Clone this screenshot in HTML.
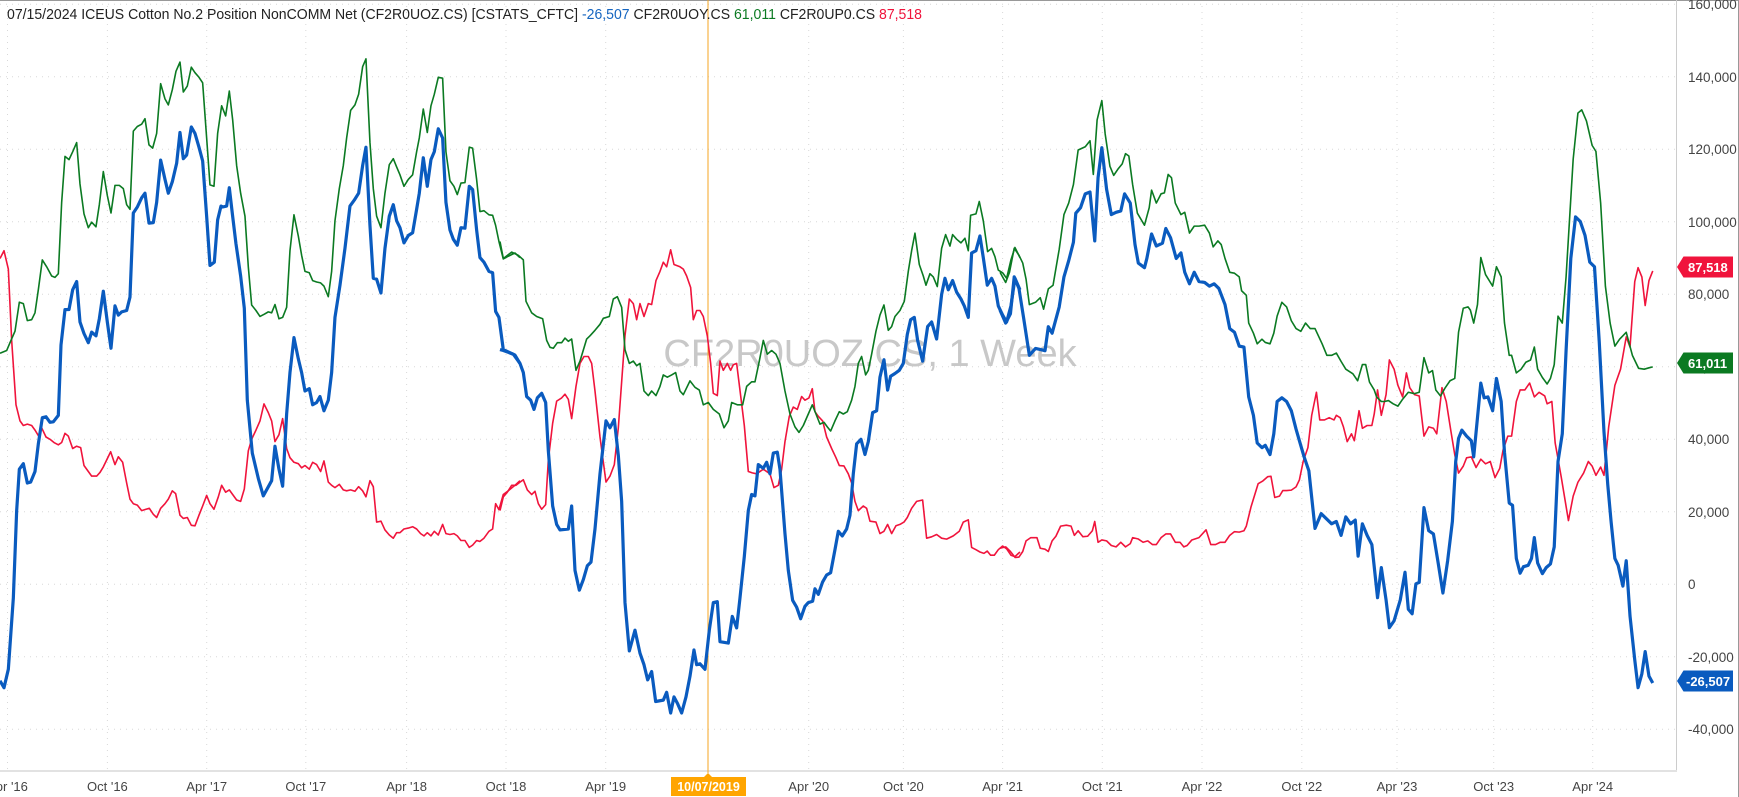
<!DOCTYPE html>
<html><head><meta charset="utf-8"><style>
html,body{margin:0;padding:0;background:#fff;}
svg{display:block;font-family:"Liberation Sans",sans-serif;}
</style></head><body>
<svg width="1739" height="797" viewBox="0 0 1739 797" xmlns="http://www.w3.org/2000/svg">
<rect width="1739" height="797" fill="#fff"/>
<g stroke="#d8d8d8" stroke-dasharray="1,5" stroke-width="1">
<line x1="0" x2="1676" y1="4.3" y2="4.3"/><line x1="0" x2="1676" y1="76.8" y2="76.8"/>
<line x1="0" x2="1676" y1="149.3" y2="149.3"/><line x1="0" x2="1676" y1="221.8" y2="221.8"/>
<line x1="0" x2="1676" y1="294.3" y2="294.3"/><line x1="0" x2="1676" y1="366.8" y2="366.8"/>
<line x1="0" x2="1676" y1="439.3" y2="439.3"/><line x1="0" x2="1676" y1="511.8" y2="511.8"/>
<line x1="0" x2="1676" y1="584.3" y2="584.3"/><line x1="0" x2="1676" y1="656.8" y2="656.8"/>
<line x1="0" x2="1676" y1="729.3" y2="729.3"/>
</g>
<g stroke="#d8d8d8" stroke-dasharray="1,5" stroke-width="1">
<line x1="7.5" x2="7.5" y1="0" y2="771"/><line x1="107.4" x2="107.4" y1="0" y2="771"/>
<line x1="206.7" x2="206.7" y1="0" y2="771"/><line x1="305.8" x2="305.8" y1="0" y2="771"/>
<line x1="406.6" x2="406.6" y1="0" y2="771"/><line x1="506" x2="506" y1="0" y2="771"/>
<line x1="605.7" x2="605.7" y1="0" y2="771"/><line x1="808.7" x2="808.7" y1="0" y2="771"/>
<line x1="903.4" x2="903.4" y1="0" y2="771"/><line x1="1002.6" x2="1002.6" y1="0" y2="771"/>
<line x1="1102.3" x2="1102.3" y1="0" y2="771"/><line x1="1202" x2="1202" y1="0" y2="771"/>
<line x1="1301.8" x2="1301.8" y1="0" y2="771"/><line x1="1397" x2="1397" y1="0" y2="771"/>
<line x1="1493.7" x2="1493.7" y1="0" y2="771"/><line x1="1592.7" x2="1592.7" y1="0" y2="771"/>
</g>
<line x1="0" x2="1739" y1="0.5" y2="0.5" stroke="#999"/>
<line x1="1676.5" x2="1676.5" y1="0" y2="772" stroke="#ccc"/>
<line x1="0" x2="1677" y1="771" y2="771" stroke="#e2e2e2" stroke-width="2"/>
<line x1="1738.5" x2="1738.5" y1="0" y2="797" stroke="#999"/>
<text x="870" y="366" font-size="38" fill="#c8c8c8" text-anchor="middle">CF2R0UOZ.CS, 1 Week</text>
<line x1="708" x2="708" y1="0" y2="773" stroke="#f5a623" stroke-width="1"/>
<g fill="none" stroke-linejoin="round">
<g stroke="#f0143c" stroke-width="1.6">
<polyline vector-effect="non-scaling-stroke" transform="scale(0.3333,0.46)" points="0,562 12,545 25,585 35,740 48,880 60,915 70,925 82,922 95,925 105,935 115,947 125,930 138,950 150,955 162,962 175,967 185,962 195,942 205,948 218,975 230,970 242,973 252,1012 265,1025 275,1035 290,1035 300,1027 310,1015 322,997 332,982 345,1010 355,993 368,1005 380,1050 390,1085 400,1095 412,1098 425,1110 438,1107 448,1105 460,1118 470,1125 482,1105 495,1095 505,1085 517,1067 527,1073 540,1120 550,1127 562,1125 574,1142 585,1143 597,1120 608,1100 620,1077 630,1095 642,1107 655,1080 665,1055 677,1070 688,1065 698,1075 710,1087 722,1090 733,1063 745,980 755,955 768,935 780,915 792,878 805,897 815,915 825,960 837,945 848,910 860,975 870,995 882,1005 895,1008 905,1017 915,1012 928,1020 938,1005 950,1010 962,1025 972,1002 985,1048 995,1055 1005,1060 1018,1053 1030,1065 1040,1067 1052,1065 1065,1068 1076,1058 1088,1067 1098,1080 1110,1045 1120,1058 1130,1135 1143,1133 1155,1152 1168,1163 1180,1170 1190,1158 1200,1158 1212,1150 1225,1148 1238,1145 1250,1150 1262,1160 1272,1165 1282,1158 1293,1165 1303,1155 1315,1163 1328,1140 1338,1160 1350,1162 1362,1160 1372,1165 1383,1175 1395,1175 1408,1190 1418,1185 1430,1175 1440,1177 1452,1170 1467,1155 1478,1150 1487,1095 1497,1108 1510,1075 1525,1067 1545,1055 1560,1045"/>
<polyline vector-effect="non-scaling-stroke" transform="translate(500,0) scale(0.3333,0.46)" points="0,1110 10,1080 22,1070 35,1055 48,1055 60,1048 70,1043 82,1065 95,1075 105,1068 115,1095 125,1107 137,1097 145,1000 158,920 170,872 185,865 195,857 205,868 215,910 228,840 240,790 252,775 265,775 275,790 285,850 300,950 318,1048 330,1035 343,1010 355,930 365,830 375,730 388,650 400,660 410,695 420,660 432,688 445,660 455,662 468,610 480,590 490,570 500,580 512,543 522,575 540,580 550,585 560,600 572,625 580,695 590,675 600,675 610,688 622,730 632,790 640,855 652,860 660,785 670,805 682,790 692,805 700,793 710,790 722,860 733,925 745,1025 757,1028 770,1030 790,1020 810,1030 822,1060 835,1055 845,1020 855,960 868,905 880,885 892,890 905,862 915,870 927,865 937,845 945,895 955,905 968,915 980,950 995,975 1008,995 1018,1012 1032,1013 1045,1030 1055,1050 1065,1090 1075,1110 1090,1100 1100,1105 1110,1133 1128,1135 1140,1160 1152,1155 1163,1140 1175,1160 1188,1143 1200,1140 1212,1135 1222,1125 1235,1105 1250,1090 1268,1087 1280,1170 1295,1167 1310,1162 1325,1170 1340,1172 1360,1165 1378,1155 1390,1135 1405,1130 1415,1190 1428,1195 1440,1200 1452,1203 1462,1198 1472,1207 1483,1207 1495,1195 1508,1187 1520,1193 1533,1207 1545,1210 1560,1200"/>
<polyline vector-effect="non-scaling-stroke" transform="translate(1000,0) scale(0.4737,0.4615)" points="0,1188 12,1185 22,1195 32,1208 40,1207 48,1195 55,1172 65,1165 78,1165 85,1188 95,1190 102,1195 110,1172 118,1162 128,1140 140,1138 150,1140 157,1160 165,1150 175,1163 185,1162 195,1150 200,1130 207,1175 215,1170 225,1172 235,1182 245,1185 255,1175 265,1185 275,1178 280,1165 292,1168 302,1175 312,1172 322,1180 330,1180 340,1165 350,1157 360,1157 370,1175 380,1175 388,1185 395,1182 405,1170 420,1165 435,1148 445,1180 455,1180 465,1175 475,1175 485,1160 495,1152 505,1153 515,1150 520,1140 530,1098 545,1048 555,1042 565,1033 572,1032 580,1078 590,1075 597,1063 605,1063 615,1062 625,1055 632,1040 640,1000 650,970 658,900 668,850 675,910 685,910 695,905 705,910 710,900 718,905 725,925 733,957 742,940 748,955 758,890 765,928 775,922 785,922 790,897 797,845 805,900 815,855 822,780 832,800 840,835 850,860 858,808 865,840 875,855 885,858 895,945 905,925 915,928 922,940 933,840 942,870 952,935 960,985 968,1025 978,1010 985,992 995,990 1005,1013 1015,995 1025,1005 1035,1000 1045,1035 1055,1015 1062,975 1072,945 1080,945 1090,870 1098,845 1108,845 1118,830 1128,860 1138,850 1150,858 1155,875 1165,870 1172,960 1185,1035 1200,1128 1210,1075 1220,1045 1232,1025 1242,1000 1250,1010 1258,1030 1268,1012 1275,1030 1285,925 1298,835 1310,800 1322,730 1330,752 1340,610 1347,580 1355,600 1362,662 1370,608 1378,587"/>
</g>
<g stroke="#0b7a22" stroke-width="1.6">
<polyline vector-effect="non-scaling-stroke" transform="scale(0.3333,0.46)" points="0,768 20,762 30,745 45,720 58,657 70,660 82,697 95,695 105,680 115,630 127,565 140,580 155,600 165,603 175,595 185,440 195,340 207,347 218,330 230,310 240,400 252,465 265,495 275,483 288,493 298,445 310,373 322,425 333,463 345,403 358,403 370,410 380,445 390,455 400,285 412,275 425,270 435,258 447,315 458,322 470,290 482,182 495,215 505,228 517,195 528,155 540,135 550,200 562,187 574,146 585,158 597,168 608,180 620,300 630,402 642,405 653,290 665,230 677,252 688,198 698,260 710,360 722,420 735,470 745,580 755,663 768,675 780,688 793,683 805,678 815,680 825,662 837,693 848,690 860,668 870,545 882,467 895,513 905,555 915,590 928,593 938,610 950,613 962,615 972,622 985,645 995,590 1005,480 1018,410 1030,360 1040,300 1052,240 1065,228 1076,205 1088,145 1098,128 1110,310 1120,410 1130,470 1143,495 1155,420 1168,358 1180,345 1190,363 1200,380 1212,405 1225,390 1238,380 1250,330 1258,300 1270,237 1282,288 1293,230 1303,205 1315,168 1328,170 1338,330 1350,393 1362,405 1372,423 1383,398 1395,397 1408,320 1418,322 1430,390 1440,460 1452,458 1467,467 1478,468 1487,490 1497,525 1510,563 1525,557 1545,550 1560,560"/>
<polyline vector-effect="non-scaling-stroke" transform="translate(500,0) scale(0.3333,0.46)" points="0,525 10,562 35,548 55,555 70,565 78,655 95,680 110,688 128,693 140,740 150,755 160,757 172,745 185,745 195,735 205,742 215,737 228,805 240,785 260,737 270,730 285,718 300,705 310,692 328,688 340,650 352,645 365,668 375,760 388,790 400,785 410,795 420,790 432,850 445,860 455,850 468,860 480,840 490,815 502,820 515,815 527,810 540,850 550,858 570,828 585,842 598,848 610,880 625,875 640,890 658,900 672,930 685,915 695,875 712,880 728,880 740,840 755,830 765,830 778,785 790,740 802,770 815,762 828,770 840,790 855,850 870,900 885,928 897,940 910,925 925,900 937,880 948,900 960,922 972,918 982,928 992,937 1005,915 1018,895 1030,900 1042,895 1055,870 1065,840 1075,790 1085,775 1097,815 1105,805 1115,770 1128,720 1140,685 1152,663 1165,718 1175,710 1185,688 1200,675 1213,655 1225,590 1235,545 1245,507 1258,575 1270,600 1278,620 1290,595 1300,602 1312,623 1325,540 1337,510 1350,535 1358,510 1370,520 1383,528 1395,518 1405,545 1412,468 1428,465 1438,438 1450,480 1463,547 1475,540 1485,558 1495,587 1508,593 1520,605 1533,565 1545,538 1560,560"/>
<polyline vector-effect="non-scaling-stroke" transform="translate(1000,0) scale(0.4737,0.4615)" points="0,590 12,612 20,590 30,538 40,553 48,570 55,605 62,660 75,655 85,645 92,670 102,626 112,618 125,540 135,465 145,440 155,400 165,325 180,318 190,305 197,378 205,260 215,218 222,290 232,360 240,380 250,365 258,355 265,333 272,338 280,400 290,462 305,488 315,450 320,412 330,440 340,420 347,418 355,378 362,385 370,440 382,465 390,460 400,505 410,490 420,490 432,488 442,505 450,535 460,522 467,530 475,560 485,590 495,592 505,600 510,630 520,640 525,700 535,722 543,745 553,735 560,742 570,745 578,722 585,685 595,655 605,665 615,695 625,712 635,718 645,700 655,712 665,712 680,745 690,770 700,770 710,765 720,783 730,800 745,810 755,825 765,790 772,790 780,828 790,845 795,860 805,870 812,870 820,868 830,875 840,880 850,865 862,850 875,853 885,850 895,775 905,808 913,803 920,845 930,858 940,840 950,825 960,820 968,720 978,668 988,665 993,672 1000,700 1008,660 1015,558 1025,595 1040,620 1048,578 1058,600 1065,700 1075,770 1080,770 1090,808 1100,800 1110,785 1120,780 1128,752 1135,800 1145,818 1155,832 1162,820 1170,790 1178,685 1187,700 1195,600 1210,345 1220,245 1228,238 1238,262 1250,315 1258,328 1268,440 1278,620 1288,700 1298,750 1308,735 1322,720 1335,770 1348,798 1360,800 1370,797 1378,795"/>
</g>
<g stroke="#0a5bbf" stroke-width="3.2">
<polyline vector-effect="non-scaling-stroke" transform="scale(0.3333,0.46)" points="0,1480 12,1495 25,1455 40,1300 50,1110 58,1020 70,1008 82,1050 92,1048 105,1025 115,965 127,908 138,906 150,918 160,917 175,903 183,750 195,673 207,673 218,630 230,612 240,700 252,725 265,745 275,722 288,730 298,693 310,633 322,700 333,757 345,665 355,685 365,678 380,675 390,646 400,463 412,450 425,430 435,420 447,485 460,484 470,440 482,348 495,390 505,420 517,395 530,355 540,288 550,345 560,337 574,276 585,290 597,320 608,350 620,470 630,577 643,570 653,478 663,448 668,450 680,448 688,408 698,470 708,530 722,600 733,670 742,870 757,985 775,1040 790,1078 815,1045 825,970 837,1020 848,1057 860,900 870,810 882,734 895,780 905,810 915,850 928,845 938,880 950,875 960,862 972,893 985,870 995,810 1005,690 1020,620 1035,540 1050,448 1063,435 1076,420 1088,360 1098,320 1110,490 1120,605 1130,607 1143,637 1155,540 1168,470 1180,445 1190,480 1200,495 1212,528 1225,512 1238,506 1250,455 1258,420 1270,343 1282,405 1293,347 1303,330 1315,280 1328,300 1338,440 1350,500 1360,520 1372,533 1383,495 1395,496 1408,405 1418,412 1430,500 1440,560 1452,570 1467,590 1478,593 1487,677 1497,690 1510,760 1525,765 1545,772 1560,790"/>
<polyline vector-effect="non-scaling-stroke" transform="translate(500,0) scale(0.3333,0.46)" points="0,760 10,762 40,770 60,790 70,810 80,862 92,870 102,890 112,865 125,855 137,875 145,980 158,1100 170,1140 180,1152 205,1150 215,1100 225,1240 238,1283 250,1260 262,1230 273,1222 285,1150 300,1030 318,915 330,930 343,912 355,990 365,1090 375,1310 388,1415 405,1370 420,1420 432,1445 443,1478 455,1460 467,1525 490,1522 500,1505 512,1550 522,1515 533,1530 545,1550 558,1515 570,1470 582,1413 590,1445 600,1443 615,1455 628,1370 640,1310 652,1308 660,1395 685,1398 697,1340 710,1365 720,1300 733,1210 745,1110 755,1075 765,1078 775,1010 790,1018 800,1005 810,1030 820,985 832,983 840,1020 855,1160 865,1240 878,1305 890,1320 902,1345 915,1318 925,1310 938,1307 945,1280 955,1292 968,1265 980,1250 992,1245 1005,1195 1015,1155 1027,1165 1040,1150 1050,1120 1060,1030 1070,965 1083,955 1095,988 1105,960 1118,897 1130,893 1140,820 1152,782 1163,848 1172,818 1185,812 1198,805 1210,790 1222,727 1232,695 1243,690 1253,740 1268,785 1283,710 1295,700 1310,737 1325,640 1335,605 1345,630 1358,610 1370,635 1383,650 1393,665 1405,690 1415,550 1428,545 1440,513 1450,560 1462,620 1475,605 1485,622 1495,665 1508,685 1520,700 1533,665 1545,605 1560,630"/>
<polyline vector-effect="non-scaling-stroke" transform="translate(1000,0) scale(0.4737,0.4615)" points="0,672 12,700 22,680 30,600 40,625 50,690 62,770 75,755 88,758 95,760 102,708 110,722 125,665 135,600 145,565 155,525 160,462 170,450 180,420 190,416 200,522 207,385 215,320 225,410 235,465 245,460 255,457 263,420 275,440 285,530 292,570 305,580 310,560 320,507 330,533 343,527 350,495 360,515 372,560 382,548 390,590 400,615 410,590 420,610 432,612 442,620 452,615 462,625 475,660 485,712 495,720 505,750 515,752 525,860 535,900 543,960 553,970 560,965 570,985 578,940 585,870 595,862 605,870 615,890 625,930 632,955 642,990 652,1020 665,1145 678,1113 690,1125 700,1135 710,1130 720,1160 730,1120 740,1135 750,1127 756,1205 765,1135 775,1160 785,1180 797,1295 805,1230 815,1300 822,1360 832,1345 845,1300 855,1240 862,1320 870,1330 878,1265 885,1262 895,1100 905,1150 915,1157 925,1220 935,1285 945,1215 955,1130 962,1000 968,950 975,932 985,945 995,955 1000,990 1008,905 1015,830 1022,862 1030,860 1040,890 1048,820 1058,870 1065,980 1075,1090 1082,1095 1090,1210 1098,1242 1105,1228 1115,1225 1122,1210 1128,1165 1135,1220 1145,1243 1153,1230 1162,1222 1170,1185 1178,1000 1187,940 1195,760 1205,560 1215,470 1225,480 1235,510 1245,568 1255,578 1265,740 1275,935 1283,1050 1290,1130 1298,1210 1305,1225 1315,1270 1322,1215 1330,1335 1340,1430 1347,1490 1355,1460 1362,1412 1370,1465 1378,1480"/>
</g>
</g>
<text x="7" y="19" font-size="14.5" fill="#222" textLength="915" lengthAdjust="spacingAndGlyphs">07/15/2024 ICEUS Cotton No.2 Position NonCOMM Net (CF2R0UOZ.CS) [CSTATS_CFTC] <tspan fill="#1565c0">-26,507</tspan> CF2R0UOY.CS <tspan fill="#0b7a22">61,011</tspan> CF2R0UP0.CS <tspan fill="#f0143c">87,518</tspan></text>
<g font-size="13.5" fill="#444">
<text x="1688" y="9">160,000</text><text x="1688" y="82">140,000</text>
<text x="1688" y="154">120,000</text><text x="1688" y="227">100,000</text>
<text x="1688" y="299">80,000</text><text x="1688" y="372">60,000</text>
<text x="1688" y="444">40,000</text><text x="1688" y="517">20,000</text>
<text x="1688" y="589">0</text><text x="1688" y="662">-20,000</text>
<text x="1688" y="734">-40,000</text>
</g>
<g font-size="13" font-weight="bold" fill="#fff">
<path d="M1677,267 L1683.5,256.5 L1733,256.5 L1733,277.5 L1683.5,277.5 Z" fill="#f0143c"/>
<text x="1688" y="272">87,518</text>
<path d="M1677,363 L1683.5,352.5 L1733,352.5 L1733,373.5 L1683.5,373.5 Z" fill="#0b7a22"/>
<text x="1688" y="368">61,011</text>
<path d="M1677,681 L1683.5,670.5 L1733,670.5 L1733,691.5 L1683.5,691.5 Z" fill="#0a5bbf"/>
<text x="1686" y="686">-26,507</text>
</g>
<g font-size="13" fill="#444" text-anchor="middle">
<text x="7.5" y="791">Apr '16</text><text x="107.4" y="791">Oct '16</text>
<text x="206.7" y="791">Apr '17</text><text x="305.8" y="791">Oct '17</text>
<text x="406.6" y="791">Apr '18</text><text x="506" y="791">Oct '18</text>
<text x="605.7" y="791">Apr '19</text><text x="808.7" y="791">Apr '20</text>
<text x="903.4" y="791">Oct '20</text><text x="1002.6" y="791">Apr '21</text>
<text x="1102.3" y="791">Oct '21</text><text x="1202" y="791">Apr '22</text>
<text x="1301.8" y="791">Oct '22</text><text x="1397" y="791">Apr '23</text>
<text x="1493.7" y="791">Oct '23</text><text x="1592.7" y="791">Apr '24</text>
</g>
<path d="M704,777 L708,773 L712,777 Z" fill="#ffa500"/>
<rect x="671" y="777" width="75" height="19" fill="#ffa500"/>
<text x="708.5" y="791" font-size="12.5" font-weight="bold" fill="#fff" text-anchor="middle">10/07/2019</text>
</svg>
</body></html>
